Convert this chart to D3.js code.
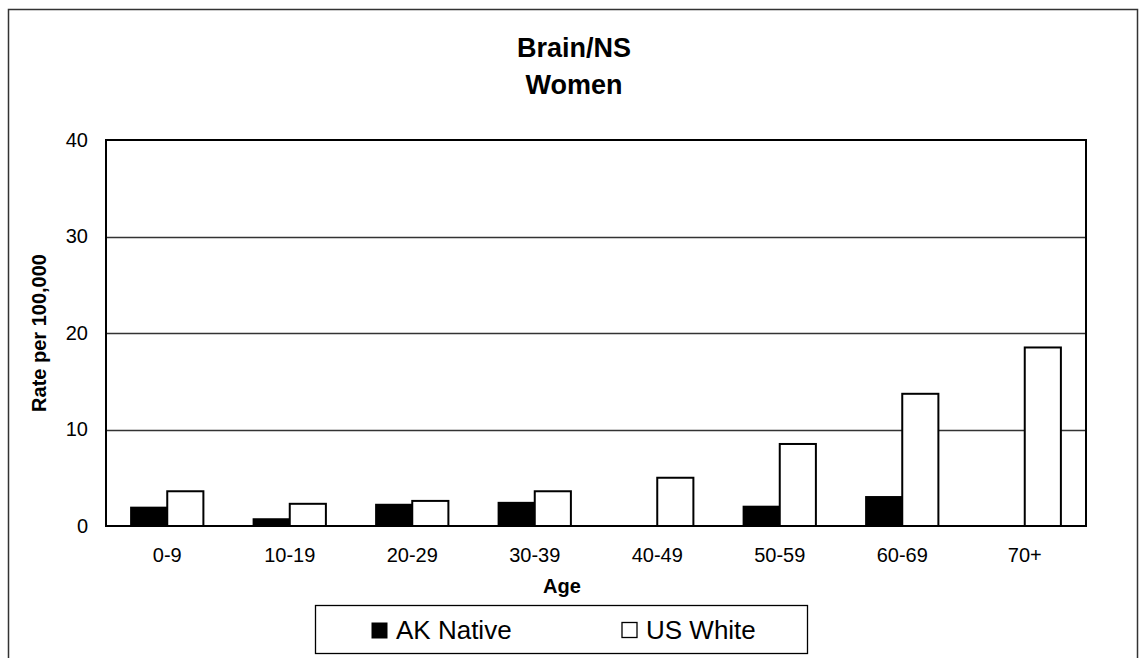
<!DOCTYPE html>
<html><head><meta charset="utf-8">
<script src="https://cdn.jsdelivr.net/npm/d3@7"></script>
<style>
html,body{margin:0;padding:0;background:#fff;}
svg{display:block;font-family:Arial,"Liberation Sans",sans-serif;}
</style></head>
<body><svg id="chart" width="1139" height="658"></svg>
<script>
const categories = ["0-9","10-19","20-29","30-39","40-49","50-59","60-69","70+"];
const akNative = [1.9, 0.7, 2.2, 2.4, null, 2.0, 3.0, null];
const usWhite = [3.6, 2.3, 2.6, 3.6, 5.0, 8.5, 13.7, 18.5];
const seriesNames = ["AK Native", "US White"];
const yTicks = [0, 10, 20, 30, 40];
const titleLines = ["Brain/NS", "Women"];

const svg = d3.select("#chart");
const plot = {left: 106, right: 1086, top: 140, bottom: 526};

// outer border
svg.append("rect").attr("x", 8.5).attr("y", 9.5).attr("width", 1129).attr("height", 700)
  .attr("fill", "#fff").attr("stroke", "#333").attr("stroke-width", 1.5);

const x = d3.scaleBand().domain(categories).range([plot.left, plot.right])
  .paddingInner(0.41).paddingOuter(0.205);
const xs = d3.scaleBand().domain(seriesNames).range([0, x.bandwidth()]);
const y = d3.scaleLinear().domain([0, 40]).range([plot.bottom, plot.top]);

// gridlines
svg.append("g").selectAll("line").data(yTicks.filter(t => t > 0 && t < 40)).join("line")
  .attr("x1", plot.left).attr("x2", plot.right)
  .attr("y1", d => Math.round(y(d)) + 0.5).attr("y2", d => Math.round(y(d)) + 0.5)
  .attr("stroke", "#333").attr("stroke-width", 1.3);

// bars
const rows = categories.map((c, i) => ({cat: c, vals: [akNative[i], usWhite[i]]}));
const g = svg.append("g");
rows.forEach(r => {
  r.vals.forEach((v, j) => {
    if (v == null) return;
    g.append("rect")
      .attr("x", x(r.cat) + xs(seriesNames[j]))
      .attr("y", y(v))
      .attr("width", xs.bandwidth())
      .attr("height", y(0) - y(v))
      .attr("fill", j === 0 ? "#000" : "#fff")
      .attr("stroke", "#000").attr("stroke-width", 2);
  });
});

// plot frame
svg.append("rect").attr("x", plot.left).attr("y", plot.top)
  .attr("width", plot.right - plot.left).attr("height", plot.bottom - plot.top)
  .attr("fill", "none").attr("stroke", "#000").attr("stroke-width", 2);

// y axis
const yAxis = d3.axisLeft(y).tickValues(yTicks).tickSize(0).tickPadding(18);
const ya = svg.append("g").attr("transform", `translate(${plot.left},0)`).call(yAxis);
ya.select(".domain").remove();
ya.selectAll("text").attr("font-size", 20).attr("fill", "#000")
  .attr("font-family", "Arial, 'Liberation Sans', sans-serif");

// x axis
const xAxis = d3.axisBottom(x).tickSize(0).tickPadding(22);
const xa = svg.append("g").attr("transform", `translate(0,${plot.bottom})`).call(xAxis);
xa.select(".domain").remove();
xa.selectAll("text").attr("font-size", 20).attr("fill", "#000")
  .attr("font-family", "Arial, 'Liberation Sans', sans-serif");

// titles
svg.selectAll("text.title").data(titleLines).join("text").attr("class", "title")
  .attr("x", 574).attr("y", (d, i) => 57 + i * 37)
  .attr("text-anchor", "middle").attr("font-size", 27).attr("font-weight", "bold")
  .text(d => d);

svg.append("text").attr("x", 562).attr("y", 593).attr("text-anchor", "middle")
  .attr("font-size", 20).attr("font-weight", "bold").text("Age");

svg.append("text").attr("transform", "translate(46,333) rotate(-90)")
  .attr("text-anchor", "middle").attr("font-size", 20).attr("font-weight", "bold")
  .text("Rate per 100,000");

// legend
const lg = svg.append("g");
lg.append("rect").attr("x", 315.5).attr("y", 605.5).attr("width", 492).attr("height", 48)
  .attr("fill", "#fff").attr("stroke", "#000").attr("stroke-width", 1.3);
const legX = [371, 621];
seriesNames.forEach((n, j) => {
  lg.append("rect").attr("x", legX[j] + (j ? 1 : 0.5)).attr("y", 622.5)
    .attr("width", j ? 15 : 16).attr("height", j ? 15 : 16)
    .attr("fill", j === 0 ? "#000" : "#fff").attr("stroke", "#000").attr("stroke-width", j ? 1.3 : 0);
  lg.append("text").attr("x", legX[j] + 25).attr("y", 639).attr("font-size", 26).text(n);
});
</script></body></html>
